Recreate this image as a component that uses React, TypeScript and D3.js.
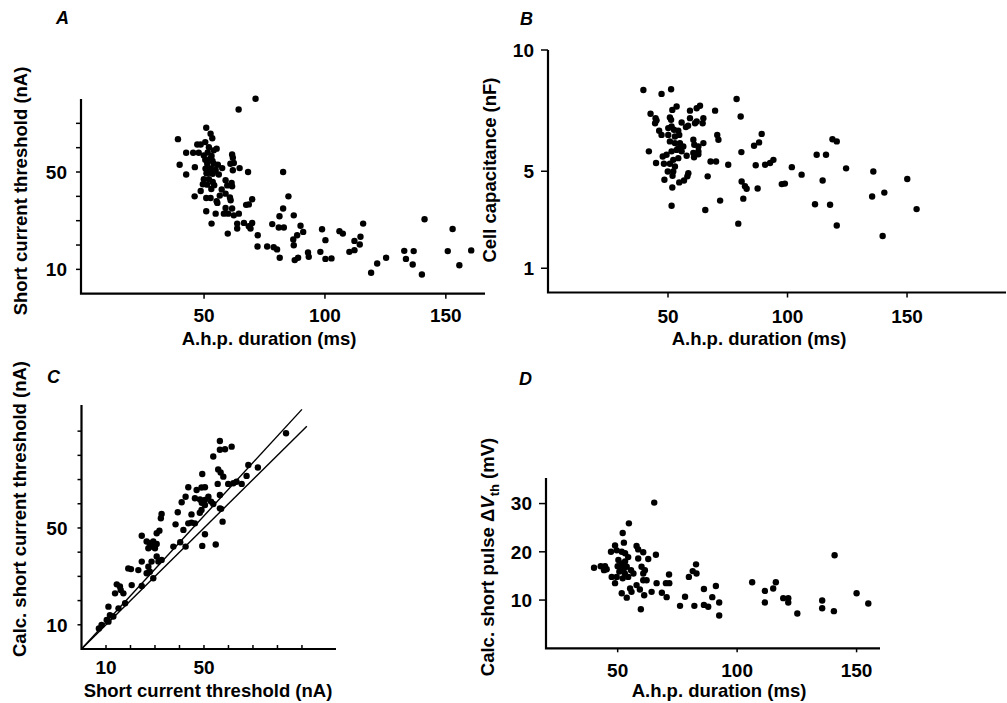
import React from 'react';
import * as d3 from 'd3';

const FONT = '"Liberation Sans", Arial, Helvetica, sans-serif';

// ---------- Panel A: short current threshold (nA) vs a.h.p. duration (ms)
const thresholdVsAhp: [number, number][] = [
  [71.3, 80.1], [64.3, 75.7], [39.2, 63.5], [50.9, 68.2], [52.7, 65.7], [53.4, 63.9], [39.9, 53.0],
  [42.6, 57.9], [45.5, 57.9], [42.6, 49.0], [46.2, 52.0], [47.2, 61.3], [48.6, 61.3], [50.5, 62.3],
  [47.8, 57.9], [49.9, 56.8], [52.0, 60.2], [54.0, 58.9], [55.2, 59.6], [53.1, 56.6], [51.3, 53.4],
  [54.0, 53.4], [55.7, 53.0], [50.6, 51.4], [52.4, 49.7], [53.6, 49.3], [56.1, 49.0], [57.5, 51.6],
  [49.9, 47.0], [52.0, 47.0], [53.6, 45.9], [51.3, 44.8], [54.2, 44.6], [48.6, 42.2], [46.1, 40.0],
  [50.9, 39.3], [52.7, 39.3], [55.2, 38.0], [55.5, 37.3], [50.9, 33.9], [54.8, 32.9], [53.1, 28.8],
  [58.9, 46.6], [59.6, 44.5], [61.4, 45.5], [61.6, 44.1], [58.9, 41.1], [60.7, 39.5], [61.0, 38.4],
  [61.6, 57.2], [61.9, 55.9], [60.9, 53.4], [62.3, 53.7], [61.9, 50.7], [64.7, 51.6], [68.2, 50.0],
  [58.9, 35.2], [58.2, 32.9], [60.0, 32.9], [61.6, 35.0], [62.3, 32.2], [64.4, 32.9], [63.7, 28.8],
  [63.7, 26.8], [59.8, 24.7], [67.4, 36.5], [68.5, 36.7], [69.9, 38.8], [66.5, 29.1], [68.5, 27.7],
  [69.9, 29.1], [69.2, 26.8], [72.2, 24.0], [72.1, 19.4], [76.1, 19.4], [78.8, 19.1], [80.2, 18.2],
  [81.3, 14.8], [82.7, 50.0], [84.9, 40.0], [82.7, 35.0], [81.2, 31.8], [78.2, 28.6], [80.9, 27.2],
  [83.0, 27.2], [87.1, 32.2], [89.9, 27.9], [91.0, 25.4], [86.9, 22.3], [88.5, 24.0], [87.1, 19.9],
  [87.5, 13.8], [88.9, 14.8], [93.0, 16.9], [93.3, 15.2], [98.8, 26.5], [100.2, 22.0], [98.1, 17.2],
  [100.2, 14.3], [102.7, 14.5], [106.0, 25.7], [107.4, 24.7], [112.2, 21.7], [114.7, 23.4],
  [114.4, 20.2], [115.8, 28.8], [110.1, 17.2], [112.2, 17.9], [119.1, 8.6], [121.6, 12.4],
  [125.3, 14.8], [132.8, 17.6], [136.7, 17.5], [133.5, 14.3], [136.3, 12.0], [140.1, 7.9],
  [141.2, 30.6], [152.8, 26.6], [150.8, 17.5], [155.6, 11.7], [160.5, 17.8],
  [52.5, 55.5], [53.5, 54.5], [51.5, 58.0], [50.5, 55.0], [52.8, 51.5], [54.8, 50.8], [51.0, 49.5],
  [53.0, 43.0], [49.5, 45.0], [56.5, 40.3], [57.3, 42.8],
];

// ---------- Panel B: cell capacitance (nF) vs a.h.p. duration (ms)
const capacitanceVsAhp: [number, number][] = [
  [39.7, 8.35], [47.3, 8.19], [51.3, 8.38], [78.7, 7.98], [42.7, 7.37], [44.8, 7.19], [44.6, 6.98],
  [45.2, 7.1], [51.8, 7.53], [53.6, 7.67], [59.2, 7.50], [62.0, 7.60], [63.4, 7.70], [69.7, 7.50],
  [80.4, 7.26], [50.8, 7.22], [51.3, 7.12], [59.2, 7.19], [61.3, 6.98], [62.0, 7.05], [64.8, 7.19],
  [64.5, 6.98], [55.7, 7.01], [57.5, 6.82], [58.4, 6.88], [46.3, 6.67], [47.3, 6.50], [50.1, 6.78],
  [51.5, 6.85], [52.5, 6.71], [54.3, 6.67], [50.1, 6.50], [52.9, 6.43], [54.7, 6.50], [50.8, 6.23],
  [52.9, 6.16], [55.0, 6.16], [54.3, 5.95], [56.4, 6.02], [60.6, 6.30], [61.0, 6.09], [62.7, 6.02],
  [64.8, 6.16], [70.6, 6.50], [71.1, 6.30], [89.2, 6.54], [88.1, 6.19], [86.0, 6.05], [118.8, 6.32],
  [120.6, 6.23], [42.0, 5.82], [47.8, 5.61], [49.4, 5.68], [51.5, 5.82], [53.6, 5.88], [55.7, 5.82],
  [57.8, 5.64], [60.6, 5.75], [62.7, 5.82], [60.9, 5.58], [62.7, 5.70], [52.2, 5.47], [54.3, 5.54],
  [50.8, 5.31], [52.9, 5.20], [45.0, 5.34], [48.3, 5.31], [49.9, 4.99], [52.2, 4.99], [51.9, 4.81],
  [48.5, 4.65], [54.7, 4.54], [56.7, 4.62], [58.1, 4.79], [58.5, 4.92], [51.8, 4.33], [51.5, 3.58],
  [66.6, 4.79], [67.8, 5.40], [70.1, 5.40], [75.2, 5.27], [80.7, 5.79], [86.7, 5.25], [90.6, 5.27],
  [92.7, 5.34], [94.1, 5.47], [97.6, 4.47], [98.9, 4.49], [101.8, 5.17], [105.9, 4.86], [112.2, 5.68],
  [116.1, 5.68], [124.5, 5.12], [114.7, 4.62], [135.9, 4.99], [150.1, 4.68], [80.8, 4.58],
  [82.2, 4.38], [82.9, 4.28], [87.5, 4.29], [81.5, 3.87], [71.8, 3.79], [65.6, 3.40], [79.4, 2.84],
  [111.5, 3.64], [117.8, 3.62], [120.6, 2.76], [135.4, 3.96], [140.5, 4.12], [154.0, 3.44],
  [139.8, 2.33],
];

// ---------- Panel C: calculated vs measured short current threshold (nA)
const calcVsMeasured: [number, number][] = [
  [83.5, 89.1], [56.5, 85.9], [58.6, 82.5], [56.5, 82.3], [61.3, 83.6], [53.8, 79.5], [68.1, 76.0],
  [67.4, 71.5], [55.8, 74.2], [56.8, 72.9], [57.9, 71.2], [49.3, 72.3], [55.6, 68.2], [59.9, 68.2],
  [63.3, 69.1], [65.4, 68.2], [43.6, 66.8], [47.0, 65.7], [49.0, 66.7], [50.4, 66.8], [42.5, 62.9],
  [40.9, 60.6], [46.3, 62.3], [48.4, 61.8], [49.1, 60.4], [50.4, 61.6], [51.8, 62.9], [52.9, 60.9],
  [50.4, 59.5], [53.8, 59.9], [56.5, 63.6], [56.5, 58.1], [39.3, 56.5], [44.9, 55.6], [48.3, 56.3],
  [49.0, 57.4], [38.4, 51.5], [46.3, 51.9], [43.6, 51.9], [44.9, 52.2], [41.6, 49.2], [40.3, 44.1],
  [42.5, 42.3], [37.5, 42.3], [50.4, 47.4], [57.0, 57.9], [57.6, 52.6], [49.3, 42.6], [54.8, 43.2],
  [32.7, 55.8], [32.4, 54.0], [31.8, 48.9], [30.7, 47.8], [24.6, 46.8], [26.6, 44.4], [27.9, 43.7],
  [29.3, 44.4], [30.7, 43.4], [27.3, 41.6], [30.0, 41.6], [28.6, 42.3], [28.6, 36.1], [31.4, 36.1],
  [32.7, 36.8], [27.3, 34.0], [27.9, 31.9], [29.3, 29.2], [23.2, 32.6], [24.6, 36.1], [19.1, 33.3],
  [20.2, 33.0], [20.5, 26.4], [24.6, 26.0], [14.4, 26.7], [15.7, 25.8], [16.0, 24.4], [17.1, 23.0],
  [13.7, 23.0], [17.8, 18.9], [11.0, 17.5], [15.1, 16.8], [13.0, 13.4], [10.3, 12.0], [8.2, 9.9],
  [7.1, 8.5], [11.6, 14.0], [11.0, 11.3], [26.6, 31.3], [30.7, 38.2], [72.0, 75.0], [62.0, 68.5],
];

// ---------- Panel D: calc. short pulse dV_th (mV) vs a.h.p. duration (ms)
const deltaVVsAhp: [number, number][] = [
  [65.3, 30.2], [54.7, 25.9], [52.1, 23.9], [52.6, 21.9], [48.9, 21.3], [47.2, 20.0], [49.6, 20.3],
  [51.7, 20.0], [53.1, 19.7], [57.9, 21.2], [58.6, 20.5], [60.7, 19.9], [66.0, 19.4], [58.6, 18.6],
  [62.8, 18.5], [54.4, 18.9], [50.3, 18.3], [51.7, 17.6], [53.1, 18.0], [53.8, 16.9], [55.6, 16.2],
  [56.6, 15.5], [40.1, 16.7], [42.9, 17.0], [44.7, 17.0], [44.3, 16.2], [45.4, 16.4], [47.5, 14.8],
  [48.9, 13.5], [49.6, 14.8], [50.7, 15.9], [52.1, 14.5], [54.4, 14.8], [60.0, 16.9], [61.4, 16.2],
  [60.7, 15.5], [57.9, 13.1], [59.3, 12.2], [60.7, 14.1], [62.1, 14.1], [61.1, 11.0], [59.7, 8.1],
  [51.7, 11.4], [53.8, 10.5], [55.8, 11.7], [55.2, 12.4], [64.2, 11.7], [66.3, 13.5], [68.5, 11.5],
  [70.2, 13.5], [71.6, 13.5], [71.5, 15.3], [70.5, 10.6], [78.2, 10.7], [76.1, 8.8], [79.8, 14.8],
  [81.4, 16.0], [83.0, 15.5], [82.8, 17.4], [82.1, 8.8], [86.1, 12.3], [86.1, 9.0], [87.9, 8.6],
  [89.6, 10.6], [91.1, 12.9], [92.5, 9.5], [92.5, 6.8], [106.3, 13.7], [111.6, 11.9], [115.1, 12.4],
  [116.2, 13.7], [111.6, 9.5], [119.3, 10.4], [121.4, 10.4], [121.4, 9.5], [125.2, 7.2],
  [135.6, 9.9], [135.6, 8.3], [140.5, 7.7], [140.8, 19.3], [150.0, 11.4], [154.9, 9.3],
  [51.0, 16.9], [52.5, 16.5], [50.0, 17.0], [53.0, 15.5],
];

// ---------- ticks and reference lines
const ahpTickValues = [50, 100, 150];
const thresholdTicks = [10, 20, 30, 40, 50, 60, 70];
const thresholdLabels = [10, 50];
const capacitanceTicks = [1, 5, 10];
const calcTicks = [10, 20, 30, 40, 50, 60, 70, 80, 90];
const calcLabels = [10, 50];
const deltaVTicks = [10, 20, 30];
const identitySlopes = [1.0, 1.1];
const identityEnds = [92, 90];

type Panel = {
  letter: string;
  letterPos: [number, number];
  xDomain: [number, number];
  yDomain: [number, number];
  xRange: [number, number];
  yRange: [number, number];
  data: [number, number][];
  xTicks: number[];
  xLabels: number[];
  xTickDir: number; // 1 = downward (outside), -1 = upward (inside)
  xTickLen: number;
  xLabelDy: number;
  yTicks: number[];
  yLabels: number[];
  yTickLen: number;
  xTitle: React.ReactNode;
  xTitlePos: [number, number];
  yTitle: React.ReactNode;
  yTitlePos: [number, number];
  lines?: boolean;
};

const panels: Panel[] = [
  {
    letter: 'A', letterPos: [56, 24],
    xDomain: [-0.9, 166.2], xRange: [81, 485],
    yDomain: [0, 80], yRange: [293.7, 99],
    data: thresholdVsAhp,
    xTicks: ahpTickValues, xLabels: ahpTickValues, xTickDir: 1, xTickLen: 5, xLabelDy: 28,
    yTicks: thresholdTicks, yLabels: thresholdLabels, yTickLen: 5,
    xTitle: 'A.h.p. duration (ms)', xTitlePos: [269, 345],
    yTitle: 'Short current threshold (nA)', yTitlePos: [27, 191],
  },
  {
    letter: 'B', letterPos: [520, 25],
    xDomain: [-0.2, 191.4], xRange: [548, 1006],
    yDomain: [0, 10], yRange: [292.5, 50],
    data: capacitanceVsAhp,
    xTicks: ahpTickValues, xLabels: ahpTickValues, xTickDir: 1, xTickLen: 5, xLabelDy: 30,
    yTicks: capacitanceTicks, yLabels: capacitanceTicks, yTickLen: 7,
    xTitle: 'A.h.p. duration (ms)', xTitlePos: [759, 345],
    yTitle: 'Cell capacitance (nF)', yTitlePos: [496, 170],
  },
  {
    letter: 'C', letterPos: [47, 383],
    xDomain: [0, 103.9], xRange: [81.5, 336],
    yDomain: [0, 100.8], yRange: [649, 405],
    data: calcVsMeasured,
    xTicks: calcTicks, xLabels: calcLabels, xTickDir: -1, xTickLen: 4, xLabelDy: 25,
    yTicks: calcTicks, yLabels: calcLabels, yTickLen: 4,
    xTitle: 'Short current threshold (nA)', xTitlePos: [208, 697],
    yTitle: 'Calc. short current threshold (nA)', yTitlePos: [26, 509],
    lines: true,
  },
  {
    letter: 'D', letterPos: [519, 385],
    xDomain: [20, 159.8], xRange: [546, 880],
    yDomain: [0, 35.3], yRange: [648.3, 478],
    data: deltaVVsAhp,
    xTicks: ahpTickValues, xLabels: ahpTickValues, xTickDir: 1, xTickLen: 4, xLabelDy: 29,
    yTicks: deltaVTicks, yLabels: deltaVTicks, yTickLen: 7,
    xTitle: 'A.h.p. duration (ms)', xTitlePos: [719, 697],
    yTitle: (
      <>
        {'Calc. short pulse \u0394'}
        <tspan fontStyle="italic">V</tspan>
        <tspan fontSize={13} dy={5}>th</tspan>
        <tspan dy={-5}>{' (mV)'}</tspan>
      </>
    ),
    yTitlePos: [494, 557],
  },
];

function PanelView({ p }: { p: Panel }) {
  const x = d3.scaleLinear().domain(p.xDomain).range(p.xRange);
  const y = d3.scaleLinear().domain(p.yDomain).range(p.yRange);
  const [x0, x1] = p.xRange;
  const [yb, yt] = p.yRange;
  const line = d3.line<[number, number]>().x((d) => x(d[0])).y((d) => y(d[1]));
  return (
    <g>
      <text x={p.letterPos[0]} y={p.letterPos[1]} fontSize={18} fontWeight="bold" fontStyle="italic">
        {p.letter}
      </text>
      {/* axes */}
      <path d={`M${x0},${yt}V${yb}H${x1}`} fill="none" stroke="#000" strokeWidth={2.2} />
      {p.xTicks.map((t) => (
        <line key={'xt' + t} x1={x(t)} x2={x(t)} y1={yb} y2={yb + p.xTickDir * p.xTickLen} stroke="#000" strokeWidth={1.5} />
      ))}
      {p.xLabels.map((t) => (
        <text key={'xl' + t} x={x(t)} y={yb + p.xLabelDy} fontSize={19} fontWeight="bold" textAnchor="middle">
          {t}
        </text>
      ))}
      {p.yTicks.map((t) => (
        <line key={'yt' + t} x1={x0} x2={x0 - p.yTickLen} y1={y(t)} y2={y(t)} stroke="#000" strokeWidth={1.5} />
      ))}
      {p.yLabels.map((t) => (
        <text key={'yl' + t} x={x0 - 14} y={y(t)} dy="0.36em" fontSize={19} fontWeight="bold" textAnchor="end">
          {t}
        </text>
      ))}
      {/* titles */}
      <text x={p.xTitlePos[0]} y={p.xTitlePos[1]} fontSize={18.5} fontWeight="bold" textAnchor="middle">
        {p.xTitle}
      </text>
      <text
        transform={`translate(${p.yTitlePos[0]},${p.yTitlePos[1]}) rotate(-90)`}
        fontSize={18.5}
        fontWeight="bold"
        textAnchor="middle"
      >
        {p.yTitle}
      </text>
      {p.lines &&
        identitySlopes.map((s, i) => (
          <path
            key={'ln' + i}
            d={line([[0, 0], [identityEnds[i], identityEnds[i] * s]]) || ''}
            fill="none"
            stroke="#000"
            strokeWidth={1.4}
          />
        ))}
      {p.data.map((d, i) => (
        <circle key={i} cx={x(d[0])} cy={y(d[1])} r={3.2} fill="#000" />
      ))}
    </g>
  );
}

export default function App() {
  return (
    <svg
      width={1007}
      height={703}
      viewBox="0 0 1007 703"
      style={{ position: 'absolute', left: 0, top: 0, background: '#fff' }}
      fontFamily={FONT}
    >
      <rect width={1007} height={703} fill="#fff" />
      {panels.map((p) => (
        <PanelView key={p.letter} p={p} />
      ))}
    </svg>
  );
}
